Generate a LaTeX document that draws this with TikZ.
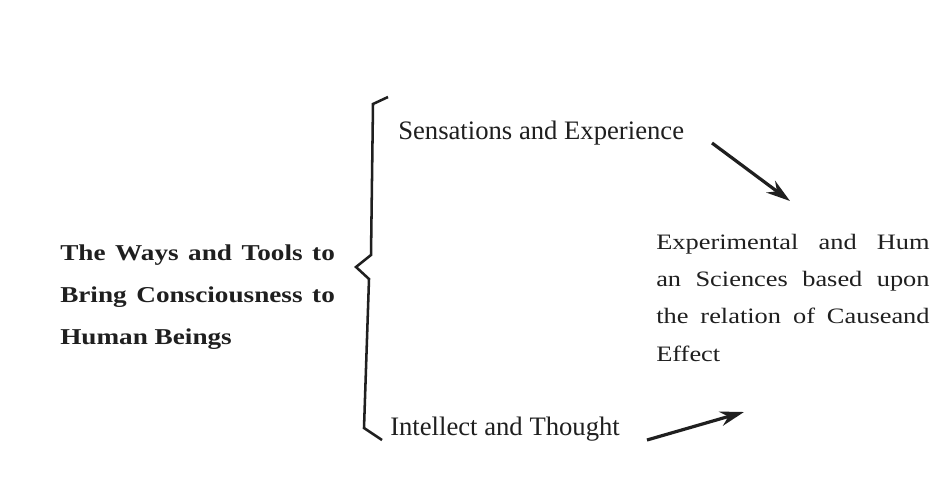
\documentclass[tikz,border=0pt]{standalone}
\usepackage{fontspec}
\setmainfont[FakeStretch=1.2]{Liberation Serif}
\newfontfamily\labelfont{Liberation Serif}
\usetikzlibrary{arrows.meta}
\definecolor{ink}{gray}{0.12}
\tikzset{
  lbl/.style={inner sep=0pt, text=ink, font=\labelfont\fontsize{20}{22}\selectfont},
  para/.style={inner sep=0pt, text=ink, align=justify},
  conn/.style={line width=2.4pt, draw=ink, -{Stealth[length=18pt,width=11pt]}},
  bracepath/.style={line width=1.9pt, draw=ink, line join=miter}
}
\begin{document}
\begin{tikzpicture}[x=0.75pt,y=-0.75pt]
\useasboundingbox[fill=white] (0,0) rectangle (952,501);
% left text
\node[para, text width=206pt, anchor=base west,
      font=\bfseries\fontsize{17}{31.5}\selectfont] (tools) at (60,260)
  {The Ways and Tools to\linebreak Bring Consciousness to\linebreak Human Beings};
% top and bottom labels
\node[lbl, anchor=base west] (sens) at (398,139) {Sensations and Experience};
\node[lbl, anchor=base west] (intel) at (390,435) {Intellect and Thought};
% right text
\node[para, text width=205pt, anchor=base west,
      font=\fontsize{16.5}{28}\selectfont] (sci) at (656,249)
  {Experimental and Hum\linebreak an Sciences based upon\linebreak the relation of Causeand\linebreak Effect};
% brace
\draw[bracepath] (388,97) -- (373,104) -- (371,255) -- (356,267) -- (369,279) -- (364,428) -- (382,440);
% arrows
\coordinate (s1) at (712,143);
\coordinate (e1) at (790,201);
\coordinate (s2) at (647,440);
\coordinate (e2) at (744,412);
\draw[conn] (s1) -- (e1);
\draw[conn] (s2) -- (e2);
\end{tikzpicture}
\end{document}
